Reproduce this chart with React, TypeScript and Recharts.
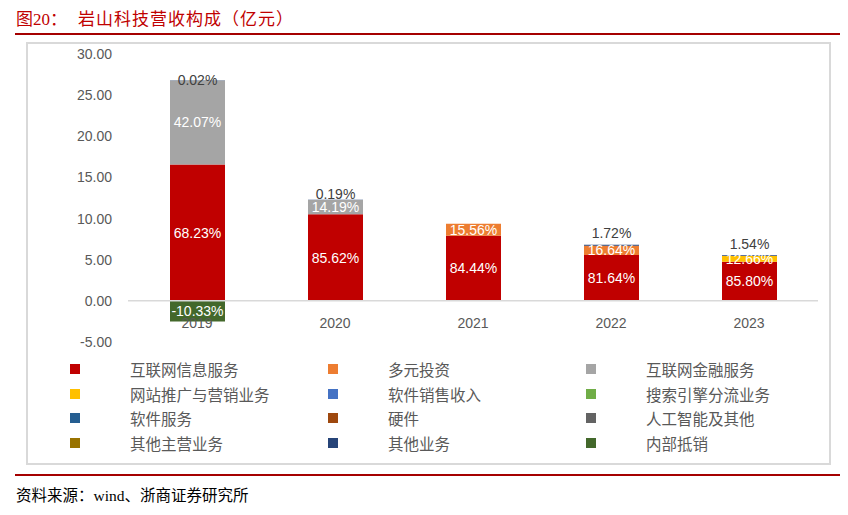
import { BarChart, Bar, XAxis, YAxis, ReferenceLine, LabelList } from 'recharts';

const years = ['2019', '2020', '2021', '2022', '2023'];
const yTicks = [-5, 0, 5, 10, 15, 20, 25, 30];

// revenue by segment, 亿元
const internetInfo = [16.57, 10.52, 7.9, 5.56, 4.75];
const diversifiedInvest = [0, 0, 1.46, 1.13, 0];
const internetFinance = [10.22, 1.74, 0, 0, 0];
const webPromotion = [0, 0, 0, 0, 0.7];
const softwareSales = [0, 0, 0, 0, 0];
const searchTraffic = [0, 0, 0, 0, 0];
const softwareService = [0, 0, 0, 0, 0];
const hardware = [0, 0, 0, 0, 0];
const aiAndOther = [0, 0, 0, 0, 0];
const otherMain = [0, 0, 0, 0, 0];
const otherBusiness = [0.005, 0.023, 0, 0.117, 0.085];
const internalOffset = [-2.51, 0, 0, 0, 0];

// share of total revenue shown on the bars, %
const internetInfoPct = [68.23, 85.62, 84.44, 81.64, 85.8];
const diversifiedInvestPct = [null, null, 15.56, 16.64, null];
const internetFinancePct = [42.07, 14.19, null, null, null];
const webPromotionPct = [null, null, null, null, 12.66];
const otherBusinessPct = [0.02, 0.19, null, 1.72, 1.54];
const internalOffsetPct = [-10.33, null, null, null, null];
const noPct = [null, null, null, null, null];

const series = [
  { name: '互联网信息服务', color: '#C00000', values: internetInfo, pcts: internetInfoPct },
  { name: '多元投资', color: '#ED7D31', values: diversifiedInvest, pcts: diversifiedInvestPct },
  { name: '互联网金融服务', color: '#A5A5A5', values: internetFinance, pcts: internetFinancePct },
  { name: '网站推广与营销业务', color: '#FFC000', values: webPromotion, pcts: webPromotionPct },
  { name: '软件销售收入', color: '#4472C4', values: softwareSales, pcts: noPct },
  { name: '搜索引擎分流业务', color: '#70AD47', values: searchTraffic, pcts: noPct },
  { name: '软件服务', color: '#255E91', values: softwareService, pcts: noPct },
  { name: '硬件', color: '#9E480E', values: hardware, pcts: noPct },
  { name: '人工智能及其他', color: '#636363', values: aiAndOther, pcts: noPct },
  { name: '其他主营业务', color: '#997300', values: otherMain, pcts: noPct },
  { name: '其他业务', color: '#264478', values: otherBusiness, pcts: otherBusinessPct, above: true },
  { name: '内部抵销', color: '#43682B', values: internalOffset, pcts: internalOffsetPct },
];

const tableData = years.map((year, i) => {
  const row: Record<string, any> = { year, idx: i };
  series.forEach((s, k) => {
    row[`s${k}`] = s.values[i];
    row[`p${k}`] = s.pcts[i];
  });
  return row;
});

// Excel labels for the thin top segment were nudged by hand
const topLabelLift = [0, 6, 0, 12, 11];

const PLOT_LEFT = 128;
const BAND = 138;

const fontStack = '"Liberation Sans", "Noto Sans CJK SC", sans-serif';
const cjkStack = '"Noto Sans CJK SC", "Liberation Sans", sans-serif';
const serifStack = '"Liberation Serif", "Noto Sans CJK SC", serif';

function makeLabel(s: any) {
  return (props: any) => {
    const vb = props.viewBox ?? props;
    const { x, y, width, height } = vb;
    const pct = props.value;
    if (pct == null || x == null) return null;
    const cx = x + width / 2;
    const text = `${Number(pct).toFixed(2)}%`;
    if (s.above) {
      const idx = Math.max(0, Math.min(4, Math.floor((cx - PLOT_LEFT) / BAND)));
      const top = Math.min(y, y + height);
      return (
        <text x={cx} y={top - topLabelLift[idx]} textAnchor="middle" dominantBaseline="central" fill="#404040" fontSize={14} fontFamily={fontStack}>
          {text}
        </text>
      );
    }
    return (
      <text x={cx} y={y + height / 2} textAnchor="middle" dominantBaseline="central" fill="#FFFFFF" fontSize={14} fontFamily={fontStack}>
        {text}
      </text>
    );
  };
}

const YearTick = (props: any) => {
  const { x, y, payload } = props;
  return (
    <text x={x} y={y - 19} textAnchor="middle" dominantBaseline="central" fill="#595959" fontSize={14} fontFamily={fontStack}>
      {payload.value}
    </text>
  );
};

export default function App() {
  return (
    <div style={{ position: 'absolute', left: 0, top: 0, width: 848, height: 515, background: '#fff', overflow: 'hidden' }}>
      <div style={{ position: 'absolute', left: 16, top: 5, fontSize: 17, color: '#C00000', fontFamily: serifStack, whiteSpace: 'nowrap' }}>
        图20：
      </div>
      <div style={{ position: 'absolute', left: 78, top: 5, fontSize: 17, letterSpacing: 1, color: '#C00000', fontFamily: serifStack, whiteSpace: 'nowrap' }}>
        岩山科技营收构成（亿元）
      </div>
      <div style={{ position: 'absolute', left: 15, top: 33, width: 825, height: 2, background: '#A50000' }} />
      <div style={{ position: 'absolute', left: 26, top: 42, width: 801, height: 419, border: '2px solid #D9D9D9' }} />

      <div style={{ position: 'absolute', left: 0, top: 0 }}>
        <BarChart
          width={848}
          height={515}
          data={tableData}
          stackOffset="sign"
          margin={{ top: 54, right: 30, bottom: 143, left: 0 }}
        >
          <YAxis
            type="number"
            domain={[-5, 30]}
            ticks={yTicks}
            interval={0}
            width={128}
            axisLine={false}
            tickLine={false}
            tickSize={0}
            tickMargin={16}
            tickFormatter={(v: number) => v.toFixed(2)}
            tick={{ fill: '#595959', fontSize: 14, fontFamily: fontStack }}
          />
          <XAxis
            dataKey="year"
            height={30}
            axisLine={false}
            tickLine={false}
            tickSize={0}
            tickMargin={0}
            tick={<YearTick />}
          />
          <ReferenceLine y={0} stroke="#D9D9D9" strokeWidth={1.5} />
          {series.map((s, k) => (
            <Bar key={s.name} dataKey={`s${k}`} name={s.name} stackId="a" fill={s.color} barSize={55} isAnimationActive={false}>
              <LabelList dataKey={`p${k}`} content={makeLabel(s)} />
            </Bar>
          ))}
        </BarChart>
      </div>

      {series.map((s, k) => {
        const col = k % 3;
        const row = Math.floor(k / 3);
        const cy = 369 + row * 24.7;
        return (
          <div key={s.name}>
            <div style={{ position: 'absolute', left: 70 + col * 258, top: cy - 5, width: 10, height: 10, background: s.color }} />
            <div style={{ position: 'absolute', left: 130 + col * 258, top: cy - 11, fontSize: 15.5, lineHeight: '22px', color: '#595959', fontFamily: cjkStack, whiteSpace: 'nowrap' }}>
              {s.name}
            </div>
          </div>
        );
      })}

      <div style={{ position: 'absolute', left: 15, top: 474, width: 825, height: 2, background: '#A50000' }} />
      <div style={{ position: 'absolute', left: 16, top: 483, fontSize: 15.5, color: '#000', fontFamily: serifStack, whiteSpace: 'nowrap' }}>
        资料来源：wind、浙商证券研究所
      </div>
    </div>
  );
}
